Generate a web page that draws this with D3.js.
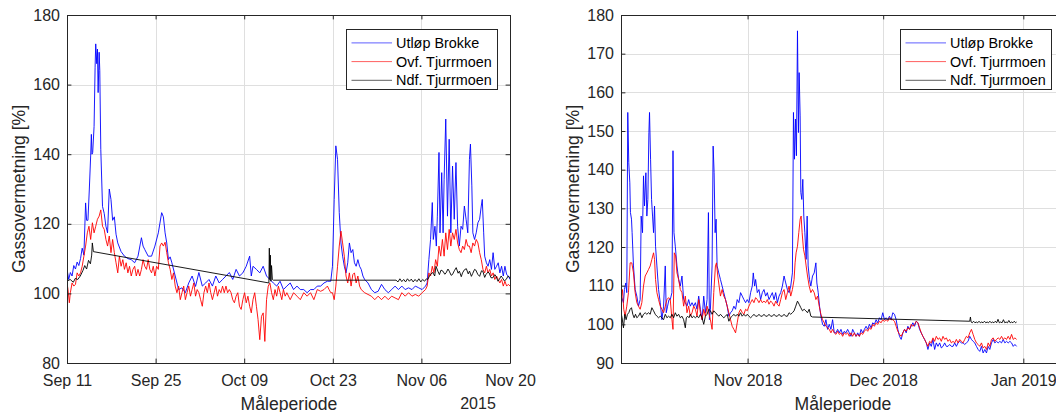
<!DOCTYPE html>
<html>
<head>
<meta charset="utf-8">
<script src="https://cdn.jsdelivr.net/npm/d3@7"></script>
<style>
  html, body { margin: 0; padding: 0; background: #ffffff; }
  svg { display: block; font-family: "Liberation Sans", Arial, Helvetica, sans-serif; }
</style>
</head>
<body>
<svg id="chart" width="1056" height="412"></svg>
<script>
// ---------------------------------------------------------------
// Gas supersaturation measurements, two campaigns (2015 and 2018)
// Each series is a list of [days since campaign start, % saturation]
// ---------------------------------------------------------------
const seriesNames = ["Utløp Brokke", "Ovf. Tjurrmoen", "Ndf. Tjurrmoen"];
const seriesColors = ["#0000ff", "#ff0000", "#000000"];

// ---- Campaign 2015 (start Sep 11 2015) ----
const start2015 = Date.UTC(2015, 8, 11);
const xTicks2015 = [Date.UTC(2015, 8, 11), Date.UTC(2015, 8, 25), Date.UTC(2015, 9, 9),
                    Date.UTC(2015, 9, 23), Date.UTC(2015, 10, 6), Date.UTC(2015, 10, 20)];
const yTicks2015 = [80, 100, 120, 140, 160, 180];
const yearLabel2015 = "2015";

const utlop2015 = [[0,107],[0.27,104],[0.53,106],[0.8,105],[1.07,108],[1.34,107],[1.6,109],[1.87,108],[2.14,110],[2.4,113],[2.67,111],[2.94,126],[3.1,121],[3.31,121],[3.53,130],[3.74,139.5],[3.85,145.7],[3.95,140],[4.06,140.5],[4.28,148],[4.44,165],[4.54,171.7],[4.7,166],[4.81,170.2],[4.92,157.7],[5.08,169.3],[5.18,164],[5.34,141.4],[5.61,125],[5.88,123],[6.15,119.3],[6.41,117.4],[6.68,130],[6.95,127],[7.21,121],[7.48,122],[7.75,117],[8.02,114.5],[8.55,112],[9.08,110.7],[9.62,110],[10.15,109.7],[10.69,108.8],[11.22,110.7],[11.76,116],[12.02,113.6],[12.29,112.6],[12.83,110.7],[13.36,110.7],[13.89,113.6],[14.43,117.4],[14.96,123.2],[15.23,122],[15.5,117.4],[15.76,114.5],[16.03,109.7],[16.3,110.5],[16.57,108.8],[17.1,105],[17.64,101.1],[18.17,101.6],[18.7,100.2],[19.24,103],[19.77,105],[20.31,102],[20.84,106],[21.38,102.1],[21.91,103],[22.44,104],[22.98,102.1],[23.51,105],[24.05,103],[24.58,104],[25.12,105],[25.65,106],[26.19,104],[26.72,106.9],[27.25,105],[27.79,105.9],[28.32,107.8],[28.86,110.7],[29.12,105],[29.39,107.8],[29.93,106.9],[30.46,105.9],[31,107.8],[31.53,105],[32.06,104],[32.6,103],[33.13,102.1],[33.67,103.5],[34.2,101.1],[34.74,102.1],[35.27,103],[35.8,101.1],[36.34,102.1],[36.87,101.1],[37.41,101.1],[37.94,100.2],[38.48,101.1],[39.01,101.1],[39.55,102.1],[40.08,102.1],[40.61,103],[41.15,103.5],[41.68,103.5],[41.95,107.8],[42.22,127],[42.48,142.4],[42.75,138.5],[43.02,123.2],[43.29,114.5],[43.55,110.7],[43.82,107.8],[44.09,105.9],[44.36,108.8],[44.62,114.5],[44.89,111.7],[45.16,112.6],[45.42,108.8],[45.69,107.8],[45.96,109.7],[46.23,107.8],[46.49,106.9],[46.76,105],[47.03,104],[47.56,103],[48.1,101.1],[48.63,100.2],[49.16,100.6],[49.7,102.6],[50.23,101.1],[50.77,100.2],[51.3,101.1],[51.84,102.1],[52.37,101.1],[52.91,102.1],[53.44,101.1],[53.97,101.6],[54.51,101.1],[55.04,102.1],[55.58,101.6],[56.11,101.1],[56.65,102.1],[56.91,103],[57.18,109.7],[57.45,115.5],[57.72,126.1],[57.88,115.5],[58.14,119.3],[58.36,113.6],[58.52,122.2],[58.78,140.5],[58.94,117.4],[59.21,134.7],[59.43,117.4],[59.59,132.8],[59.85,150.1],[60.12,122.2],[60.39,144.3],[60.65,117.4],[60.92,136.6],[61.19,121.3],[61.46,137.6],[61.72,119.3],[61.99,113.6],[62.26,119.3],[62.52,118.4],[62.79,125.1],[63.06,121.3],[63.33,117.4],[63.59,138.5],[63.75,142.9],[63.97,130.9],[64.13,117.4],[64.4,115.5],[64.66,117.4],[64.93,120.3],[65.2,121.3],[65.46,125.1],[65.62,127],[65.84,117.4],[66,110.7],[66.27,108.8],[66.53,107.8],[66.8,109.7],[67.07,106.9],[67.33,111.7],[67.6,106.9],[67.87,107.8],[68.14,108.8],[68.4,105.9],[68.67,107.8],[68.94,105],[69.2,107.8],[69.47,105.4],[69.74,105],[70,104]];

const ovf2015 = [[0,103],[0.16,101.1],[0.37,97.3],[0.53,100.2],[0.8,103],[1.07,102.1],[1.34,102.6],[1.6,105.9],[1.87,105],[2.14,105.9],[2.4,107.8],[2.67,110.7],[2.94,113.6],[3.21,117.4],[3.47,119.3],[3.74,115.5],[4.01,120.3],[4.28,117.4],[4.54,119.3],[4.81,121.3],[5.08,122.2],[5.34,124],[5.61,119.3],[5.88,118.4],[6.15,115.5],[6.41,113.6],[6.68,116.5],[6.95,111.7],[7.21,115.5],[7.48,111.7],[7.75,108.8],[8.02,105.9],[8.28,110.7],[8.55,107.8],[8.82,109.7],[9.08,106.9],[9.35,108.8],[9.62,105.9],[9.88,107.8],[10.15,105],[10.42,106.9],[10.69,107.8],[10.95,105],[11.22,106.9],[11.49,105],[11.76,106.9],[12.02,109.7],[12.29,107.8],[12.56,106.9],[12.83,109.7],[13.09,106.9],[13.36,105.9],[13.63,107.8],[13.89,105],[14.16,107.8],[14.43,106.9],[14.7,113.6],[14.96,114.5],[15.23,113.6],[15.5,114.7],[15.76,111.7],[16.03,108.8],[16.3,106.9],[16.57,104],[16.83,105.9],[17.1,102.1],[17.37,100.2],[17.64,102.1],[17.9,98.2],[18.17,100.2],[18.44,102.1],[18.7,98.2],[18.97,100.2],[19.24,102.1],[19.51,99.2],[19.77,101.1],[20.04,103],[20.31,99.2],[20.57,101.1],[20.84,100.2],[21.11,98.2],[21.38,96.3],[21.64,100.2],[21.91,102.1],[22.18,100.2],[22.44,103],[22.71,100.2],[22.98,98.2],[23.25,100.2],[23.51,102.1],[23.78,99.2],[24.05,101.1],[24.31,100.2],[24.58,102.1],[24.85,100.2],[25.12,102.1],[25.38,100.2],[25.65,101.1],[25.92,100.2],[26.19,98.2],[26.45,97.3],[26.72,99.2],[26.99,100.2],[27.25,96.3],[27.52,95.4],[27.79,98.2],[28.06,100.2],[28.32,97.3],[28.59,99.2],[28.86,96.3],[29.12,94.4],[29.39,98.2],[29.66,100.2],[29.93,96.3],[30.19,92.5],[30.46,86.7],[30.73,93.4],[31,94.4],[31.26,86.2],[31.53,98.2],[31.8,102.1],[32.06,103],[32.33,100.2],[32.6,98.2],[32.87,101.1],[33.13,99.2],[33.4,102.1],[33.67,100.2],[33.94,98.2],[34.2,101.1],[34.47,99.2],[34.74,100.2],[35.27,98.2],[35.8,100.2],[36.34,99.2],[36.87,98.2],[37.41,100.2],[37.94,99.2],[38.48,100.2],[39.01,98.2],[39.55,101.1],[40.08,100.6],[40.61,101.1],[41.15,102.1],[41.41,101.1],[41.68,100.2],[41.95,100.2],[42.22,98.2],[42.48,102.1],[42.75,107.8],[43.02,113.6],[43.29,117.9],[43.55,114.5],[43.82,110.7],[44.09,105],[44.36,103],[44.62,105.9],[44.89,102.1],[45.16,105.4],[45.42,105.9],[45.69,103],[45.96,105],[46.23,102.1],[46.49,101.1],[47.03,100.2],[47.56,99.7],[48.1,99.2],[48.63,98.2],[49.16,99.2],[49.7,98.2],[50.23,99.2],[50.77,98.2],[51.3,99.2],[51.84,98.7],[52.37,98.2],[52.91,100.2],[53.44,99.2],[53.97,100.2],[54.51,99.2],[55.04,99.7],[55.58,99.2],[56.11,100.2],[56.65,101.1],[56.91,102.1],[57.18,105.9],[57.45,105],[57.72,107.8],[57.98,105.9],[58.25,109.7],[58.52,107.8],[58.78,113.6],[59.05,110.7],[59.32,115.5],[59.59,110.7],[59.85,117.4],[60.12,112.6],[60.39,118.4],[60.65,113.6],[60.92,117.4],[61.19,115.5],[61.46,118.4],[61.72,114.5],[61.99,112.6],[62.26,111.7],[62.52,113.6],[62.79,112.6],[63.06,115.5],[63.33,113.6],[63.59,113.6],[63.86,111.7],[64.13,114.5],[64.4,113.6],[64.66,115.5],[64.93,114.5],[65.2,111.7],[65.46,109.7],[65.73,106.9],[66,105.9],[66.27,107.8],[66.53,105.9],[66.8,106.9],[67.07,105],[67.33,105.9],[67.6,104],[67.87,105],[68.14,104],[68.4,103],[68.67,104],[68.94,102.1],[69.2,103.5],[69.47,102.1],[69.74,102.6],[70,102.1]];

const ndf2015 = [[0,103.5],[0.5,104],[1,103.2],[1.3,104.3],[1.7,104],[2.1,105],[2.5,106.5],[2.8,108],[3.1,107],[3.4,109.5],[3.7,108.5],[3.9,111],[4,114.5],[4.17,112],[31.9,103],[31.97,113],[32.05,104],[32.13,111],[32.22,103.5],[32.32,108],[32.45,104],[32.6,103.8],[52,103.8],[52.3,103.3],[52.6,104.2],[52.9,103.4],[53.2,104],[53.5,103.3],[53.8,104.2],[54.1,103.5],[54.4,104.1],[54.7,103.3],[55,104],[55.3,103.4],[55.6,104.2],[55.9,103.3],[56.2,104],[56.5,103.5],[56.8,104.2],[57,104],[57.4,105.4],[57.8,106],[58.1,105],[58.3,107.8],[58.6,106.4],[58.85,105.4],[59.1,106.7],[59.4,106.4],[59.7,105.5],[59.9,105.9],[60.2,107],[60.4,106.4],[60.7,105.2],[60.9,105.4],[61.2,106.5],[61.5,107.4],[61.8,105.8],[62,106.4],[62.3,104.8],[62.5,105.9],[62.8,106.8],[63.1,107.1],[63.4,105.6],[63.6,106.4],[63.9,104.9],[64.1,105.7],[64.4,106.9],[64.6,106.7],[64.9,105.5],[65.2,104.9],[65.5,106.5],[65.7,106.4],[66,104.6],[66.2,105.4],[66.5,106.1],[66.7,105.9],[67,104.5],[67.3,104.5],[67.6,105.4],[67.8,104.9],[68.1,103.5],[68.3,104],[68.6,105],[68.8,104.5],[69.1,103.6],[69.4,104],[69.7,105],[70,104.5]];

// ---- Campaign 2018 (start Oct 4 2018) ----
const start2018 = Date.UTC(2018, 9, 4);
const xTicks2018 = [Date.UTC(2018, 10, 1), Date.UTC(2018, 11, 1), Date.UTC(2019, 0, 1)];
const yTicks2018 = [90, 100, 110, 120, 130, 140, 150, 160, 170, 180];

const utlop2018 = [[0,106.4],[0.17,106.9],[0.54,105.6],[0.76,109],[1.06,110.7],[1.28,108.2],[1.5,154.8],[1.72,141.8],[1.95,136.6],[2.09,128.9],[2.32,127.2],[2.46,123.7],[2.76,115.1],[3.13,109],[3.5,107.3],[3.87,104.7],[4.24,106.4],[4.46,128],[4.76,123.7],[4.98,138.4],[5.2,130.6],[5.5,139.2],[5.72,128],[5.94,132.3],[6.17,149.6],[6.31,154.8],[6.54,142.7],[6.76,132.3],[6.98,128],[7.2,123.7],[7.42,130.6],[7.64,120.2],[7.94,115.1],[8.31,109],[8.68,105.6],[9.05,101.2],[9.42,104.7],[9.79,115.1],[10.01,103],[10.31,104.7],[10.61,106.4],[10.9,106.4],[11.27,108.2],[11.5,144.9],[11.72,123.7],[12.01,120.2],[12.38,115.1],[12.75,111.6],[13.12,109.9],[13.49,112.5],[13.86,106.4],[14.23,105.6],[14.6,104.7],[14.97,106.4],[15.34,104.7],[15.71,105.6],[16.08,104.7],[16.45,105.6],[16.82,103.9],[17.19,107.3],[17.56,103.9],[17.93,101.2],[18.3,107.3],[18.67,103],[19.04,106.4],[19.34,128.9],[19.56,101.2],[19.78,103.9],[20.15,115.1],[20.38,146.1],[20.6,139.2],[20.82,123.7],[21.04,127.2],[21.26,115.1],[21.63,113.3],[22,111.6],[22.37,109.9],[22.74,108.2],[23.12,106.4],[23.49,104.7],[23.86,102.1],[24.23,103],[24.6,103.5],[24.97,104.7],[25.34,103.9],[25.71,106.4],[26.08,105.6],[26.45,108.2],[26.82,107.3],[27.19,106.4],[27.56,105.6],[27.93,106.4],[28.3,105.6],[28.67,108.2],[29.04,109.9],[29.26,113.3],[29.56,109.9],[29.78,111.6],[30.15,108.2],[30.52,109],[30.89,106.4],[31.26,108.2],[31.63,109],[32,107.3],[32.37,108.2],[32.74,106.4],[33.11,107.3],[33.48,108.2],[33.85,106.4],[34.22,108.2],[34.59,105.6],[34.96,107.3],[35.33,108.2],[35.7,109.9],[36.07,112.5],[36.44,110.7],[36.81,109],[37.18,108.2],[37.55,109.9],[37.92,113.3],[38.15,154.8],[38.37,142.7],[38.59,153.1],[38.81,143.6],[39.04,175.9],[39.26,149.6],[39.41,165.1],[39.63,153.9],[39.78,134.1],[40,132.3],[40.22,137.5],[40.44,128],[40.67,123.7],[40.96,116.8],[41.18,128],[41.4,115.1],[41.7,111.6],[42,109.9],[42.37,112.5],[42.74,113.3],[43.11,115.9],[43.33,110.7],[43.63,108.2],[43.92,104.7],[44.22,102.1],[44.59,100],[44.96,99.5],[45.33,101.2],[45.7,98.7],[46.07,100],[46.44,98.7],[46.81,101.2],[47.18,97.8],[47.55,97.8],[47.92,98.7],[48.29,97.8],[48.66,98.7],[49.03,97.4],[49.4,98.2],[49.77,97.8],[50.14,98.7],[50.51,97.8],[50.88,96.9],[51.25,98.7],[51.62,97.8],[51.99,96.9],[52.36,97.8],[52.73,96.9],[53.1,98.7],[53.47,97.8],[53.84,98.7],[54.21,99.5],[54.58,98.7],[54.95,100],[55.32,99.1],[55.69,100.4],[56.06,100],[56.43,101.2],[56.8,100.4],[57.17,101.7],[57.54,101.2],[57.91,103],[58.28,101.2],[58.65,101.7],[59.02,101.2],[59.39,102.1],[59.76,101.2],[60.13,103],[60.5,102.6],[60.87,101.2],[61.24,98.7],[61.61,96.9],[61.98,96.1],[62.35,97.8],[62.72,98.7],[63.09,97.8],[63.46,99.5],[63.83,98.7],[64.2,99.5],[64.57,100.4],[64.94,99.5],[65.31,100.8],[65.68,100.4],[66.05,98.7],[66.42,97.8],[66.79,96.9],[67.16,96.1],[67.53,95.2],[67.9,93.5],[68.27,95.2],[68.64,94.3],[69.01,96.1],[69.38,93.5],[69.75,95.2],[70.12,94.3],[70.49,95.2],[70.86,93.9],[71.23,94.3],[71.6,95.2],[71.97,94.3],[72.34,94.3],[72.71,94.8],[73.08,94.3],[73.45,94.3],[73.82,95.2],[74.19,94.3],[74.56,95.2],[74.93,95.6],[75.3,95.2],[75.67,95.2],[76.04,94.8],[76.41,95.2],[76.78,95.6],[77.15,96.9],[77.52,96.1],[77.89,95.6],[78.26,95.2],[78.63,94.3],[79,93.5],[79.37,93],[79.74,94.3],[80.11,92.6],[80.48,93.5],[80.85,92.6],[81.22,94.3],[81.59,93.5],[81.96,95.2],[82.33,96.1],[82.7,95.2],[83.07,95.6],[83.44,95.2],[83.81,95.6],[84.18,95.2],[84.55,96.1],[84.92,95.2],[85.29,95.6],[85.66,95.2],[86.03,95.6],[86.4,95.2],[86.77,94.3],[87.14,94.8],[87.51,94.3]];

const ovf2018 = [[0,106.4],[0.32,109],[0.61,103.9],[0.91,102.1],[1.28,104.7],[1.65,108.2],[2.02,115.9],[2.39,115.9],[2.76,113.3],[3.13,108.2],[3.5,105.6],[3.87,104.7],[4.24,103.9],[4.61,105.6],[4.98,109.9],[5.35,112.5],[5.72,113.3],[6.09,114.2],[6.46,115.1],[6.83,116.8],[7.2,118.5],[7.42,116.8],[7.64,111.6],[7.94,108.2],[8.31,106.4],[8.68,104.7],[9.05,103.9],[9.42,103],[9.79,104.7],[10.16,106.4],[10.53,106.9],[10.9,106.4],[11.27,101.2],[11.5,98.7],[11.79,118.5],[12.09,117.7],[12.38,113.3],[12.75,111.6],[13.12,109],[13.49,108.2],[13.86,104.7],[14.23,107.3],[14.6,103],[14.97,104.7],[15.34,102.1],[15.71,103],[16.08,104.7],[16.45,103.9],[16.82,102.1],[17.19,106.4],[17.56,103],[17.93,101.2],[18.3,103.9],[18.67,102.1],[19.04,104.7],[19.41,103],[19.78,101.2],[20.15,98.7],[20.52,108.2],[20.89,115.1],[21.12,115.9],[21.41,112.5],[21.71,109.9],[22,107.3],[22.37,109],[22.74,107.3],[23.12,106.4],[23.49,104.7],[23.86,103],[24.23,101.2],[24.6,99.5],[24.97,98.7],[25.34,97.8],[25.71,100.4],[26.08,103],[26.45,103.9],[26.82,103],[27.19,102.6],[27.56,103.9],[27.93,103.5],[28.3,104.7],[28.67,105.6],[29.04,106.4],[29.41,105.6],[29.78,106.9],[30.15,106.4],[30.52,105.6],[30.89,106.4],[31.26,105.6],[31.63,106],[32,105.6],[32.37,106.4],[32.74,105.2],[33.11,106],[33.48,105.6],[33.85,104.7],[34.22,106],[34.59,105.2],[34.96,104.7],[35.33,106.4],[35.7,108.2],[36.07,109],[36.44,106.4],[36.81,108.2],[37.18,109.9],[37.55,107.3],[37.92,109],[38.29,111.6],[38.51,115.9],[38.74,118.5],[39.04,120.2],[39.33,123.7],[39.63,127.2],[39.85,128],[40.07,123.7],[40.37,119.4],[40.67,117.7],[40.96,115.1],[41.26,112.5],[41.63,109.9],[42,108.2],[42.37,109],[42.74,108.2],[43.11,106.4],[43.48,107.3],[43.85,104.7],[44.22,102.6],[44.59,101.2],[44.96,100.4],[45.33,99.5],[45.7,99.1],[46.07,98.7],[46.44,97.8],[46.81,98.7],[47.18,97.8],[47.55,97.4],[47.92,98.2],[48.29,97.4],[48.66,97.8],[49.03,96.9],[49.4,97.8],[49.77,97.4],[50.14,97.8],[50.51,96.9],[50.88,97.8],[51.25,96.9],[51.62,97.8],[51.99,96.9],[52.36,97.4],[52.73,96.9],[53.1,97.8],[53.47,97.4],[53.84,98.2],[54.21,98.7],[54.58,98.2],[54.95,99.1],[55.32,98.7],[55.69,100],[56.06,99.5],[56.43,100.4],[56.8,100],[57.17,100.8],[57.54,100.4],[57.91,101.2],[58.28,100.8],[58.65,101.2],[59.02,100.8],[59.39,101.7],[59.76,101.2],[60.13,101.2],[60.5,100.8],[60.87,99.5],[61.24,98.2],[61.61,97.4],[61.98,96.9],[62.35,97.8],[62.72,98.7],[63.09,98.2],[63.46,99.1],[63.83,98.7],[64.2,100],[64.57,99.5],[64.94,100],[65.31,100.8],[65.68,100.4],[66.05,99.1],[66.42,97.8],[66.79,96.9],[67.16,96.1],[67.53,95.2],[67.9,94.3],[68.27,95.6],[68.64,95.2],[69.01,96.5],[69.38,95.6],[69.75,96.9],[70.12,96.1],[70.49,96.5],[70.86,95.6],[71.23,96.9],[71.6,96.1],[71.97,96.5],[72.34,95.6],[72.71,96.1],[73.08,95.2],[73.45,95.6],[73.82,95.2],[74.19,96.1],[74.56,95.2],[74.93,96.1],[75.3,95.6],[75.67,95.2],[76.04,96.1],[76.41,96.9],[76.78,96.5],[77.15,97.8],[77.52,98.7],[77.89,97.4],[78.26,96.1],[78.63,95.2],[79,94.8],[79.37,94.3],[79.74,95.2],[80.11,93.9],[80.48,94.3],[80.85,93.5],[81.22,95.2],[81.59,94.3],[81.96,96.1],[82.33,96.5],[82.7,95.6],[83.07,96.1],[83.44,96.5],[83.81,96.1],[84.18,96.9],[84.55,96.1],[84.92,96.5],[85.29,96.1],[85.66,96.9],[86.03,96.1],[86.4,97.4],[86.77,96.1],[87.14,96.5],[87.51,96.1]];

const ndf2018 = [[0,103],[0.24,101.7],[0.54,99.1],[0.84,102.6],[1.13,101.2],[1.43,102.6],[1.72,103],[2.02,103.9],[2.32,104.3],[2.61,102.6],[2.91,101.7],[3.21,102.6],[3.5,101.7],[3.87,102.1],[4.24,103],[4.61,101.7],[4.98,102.6],[5.35,103],[5.72,102.6],[6.09,103],[6.46,102.6],[6.83,104.3],[7.2,103.5],[7.57,102.6],[7.94,102.1],[8.31,101.7],[8.68,102.1],[9.05,101.7],[9.42,101.2],[9.79,102.6],[10.16,101.7],[10.53,102.1],[10.9,101.7],[11.27,102.6],[11.64,101.7],[12.01,103],[12.38,102.1],[12.75,102.6],[13.12,101.7],[13.49,102.1],[13.86,101.2],[14.23,99.1],[14.45,101.7],[14.75,102.1],[15.05,101.7],[15.34,102.6],[15.71,101.7],[16.08,102.1],[16.45,101.7],[16.82,102.1],[17.19,101.7],[17.56,102.6],[17.93,101.7],[18.3,100],[18.67,102.1],[19.04,102.6],[19.41,103.9],[19.78,103.5],[20.15,102.6],[20.52,103.5],[20.89,103],[21.26,102.6],[21.63,102.1],[22,102.6],[22.37,102.1],[22.74,101.7],[23.12,102.1],[23.49,102.6],[23.86,100.8],[24.23,101.7],[24.6,102.1],[24.97,102.6],[25.34,102.1],[25.71,102.6],[26.08,102.1],[26.45,103],[26.8,102.1],[27.19,102.6],[27.56,102.1],[27.93,102.6],[28.3,102.1],[28.67,101.7],[29.04,102.1],[29.41,102.6],[29.78,102.1],[30.15,102.1],[30.52,102.6],[30.89,102.1],[31.26,102.1],[31.63,102.6],[32,102.1],[32.37,102.1],[32.74,102.6],[33.11,102.1],[33.48,102.1],[33.85,102.6],[34.22,102.1],[34.59,102.1],[34.96,102.6],[35.33,102.1],[35.7,102.1],[36.07,102.6],[36.44,102.1],[36.81,102.1],[37.18,103],[37.55,102.6],[37.92,103],[38.29,103.5],[38.66,104.7],[39.04,106],[39.41,105.2],[39.78,104.3],[40.15,103.5],[40.52,103.9],[40.89,103.5],[41.26,103],[41.63,103.9],[42,102.1],[42.37,101.9],[77.15,100.8],[77.3,101.9],[77.45,100.6],[77.7,100.4],[78,100.8],[78.3,100.4],[78.6,100.6],[78.9,100.4],[79.2,100.8],[79.5,100.4],[79.8,100.6],[80.1,100.4],[80.4,100.8],[80.7,100.4],[81,100.6],[81.3,100.4],[81.6,100.8],[81.9,100.4],[82.2,100.6],[82.5,100.4],[82.8,100.8],[83.1,100.4],[83.4,101.3],[83.7,100.4],[84,100.6],[84.3,100.4],[84.6,101.2],[84.9,100.4],[85.2,100.6],[85.5,100.4],[85.8,101],[86.1,100.4],[86.4,100.6],[86.7,100.4],[87,100.8],[87.3,100.4],[87.51,100.6]];

const xAxisTitle = "Måleperiode";
const yAxisTitle = "Gassovermetning [%]";

// ---------------------------------------------------------------
const svg = d3.select("#chart");
const AXIS_COLOR = "#262626";
const GRID_COLOR = "#dfdfdf";
const TICK_FONT = 16;
const LABEL_FONT = 17.6;
const LEGEND_FONT = 14.4;
const TICK_LEN = 4.4;

function dayToDate(start, d) { return new Date(start + d * 864e5); }

function styleAxis(g) {
  g.attr("font-size", null).attr("font-family", null);
  g.select(".domain").attr("stroke", AXIS_COLOR).attr("stroke-width", 1);
  g.selectAll(".tick line").attr("stroke", AXIS_COLOR).attr("stroke-width", 1);
  g.selectAll(".tick text").attr("fill", AXIS_COLOR).style("font-size", TICK_FONT + "px");
}

function drawPanel(p) {
  const x = d3.scaleUtc().domain(p.xDomain).range([p.x0, p.x1]);
  const y = d3.scaleLinear().domain(p.yDomain).range([p.y1, p.y0]);
  const g = svg.append("g").attr("class", p.id);

  g.append("clipPath").attr("id", p.id + "-clip")
    .append("rect").attr("x", p.x0).attr("y", p.y0)
    .attr("width", p.x1 - p.x0).attr("height", p.y1 - p.y0);

  // grid
  const grid = g.append("g").attr("class", "grid");
  grid.selectAll("line.gx").data(p.xTicks).join("line").attr("class", "gx")
    .attr("x1", d => Math.round(x(d)) + 0.5).attr("x2", d => Math.round(x(d)) + 0.5)
    .attr("y1", p.y0).attr("y2", p.y1)
    .attr("stroke", GRID_COLOR).attr("stroke-width", 1);
  grid.selectAll("line.gy").data(p.yTicks).join("line").attr("class", "gy")
    .attr("x1", p.x0).attr("x2", p.x1)
    .attr("y1", d => Math.round(y(d)) + 0.5).attr("y2", d => Math.round(y(d)) + 0.5)
    .attr("stroke", GRID_COLOR).attr("stroke-width", 1);

  // data lines
  const line = d3.line()
    .x(d => x(dayToDate(p.start, d[0])))
    .y(d => y(d[1]));
  const lines = g.append("g").attr("clip-path", `url(#${p.id}-clip)`);
  p.series.forEach((s, i) => {
    lines.append("path").attr("d", line(s))
      .attr("fill", "none").attr("stroke", seriesColors[i])
      .attr("stroke-width", 0.9).attr("stroke-linejoin", "round");
  });

  // axes (ticks point inward, box on all four sides)
  g.append("g").attr("transform", `translate(0,${p.y1})`)
    .call(d3.axisBottom(x).tickValues(p.xTicks).tickFormat(p.xFormat)
      .tickSizeInner(-TICK_LEN).tickSizeOuter(0).tickPadding(11.5))
    .call(styleAxis);
  g.append("g").attr("transform", `translate(0,${p.y0})`)
    .call(d3.axisTop(x).tickValues(p.xTicks).tickFormat("")
      .tickSizeInner(-TICK_LEN).tickSizeOuter(0))
    .call(styleAxis);
  g.append("g").attr("transform", `translate(${p.x0},0)`)
    .call(d3.axisLeft(y).tickValues(p.yTicks).tickFormat(d3.format("d"))
      .tickSizeInner(-TICK_LEN).tickSizeOuter(0).tickPadding(7))
    .call(styleAxis);
  g.append("g").attr("transform", `translate(${p.x1},0)`)
    .call(d3.axisRight(y).tickValues(p.yTicks).tickFormat("")
      .tickSizeInner(-TICK_LEN).tickSizeOuter(0))
    .call(styleAxis);

  // axis titles
  g.append("text")
    .attr("x", (p.x0 + p.x1) / 2 + 0.5).attr("y", 409.5)
    .attr("text-anchor", "middle").attr("fill", AXIS_COLOR)
    .style("font-size", LABEL_FONT + "px").text(xAxisTitle);
  g.append("text")
    .attr("transform", `translate(${p.x0 - 42},${(p.y0 + p.y1) / 2}) rotate(-90)`)
    .attr("text-anchor", "middle").attr("fill", AXIS_COLOR)
    .style("font-size", LABEL_FONT + "px").text(yAxisTitle);
  if (p.yearLabel) {
    g.append("text")
      .attr("x", p.x1 - 32).attr("y", 408.5)
      .attr("text-anchor", "middle").attr("fill", AXIS_COLOR)
      .style("font-size", TICK_FONT + "px").text(p.yearLabel);
  }

  // legend
  const lw = 151, lh = 60;
  const lx = p.x1 - 13 - lw + 0.5, ly = p.y0 + 14 + 0.5;
  const leg = g.append("g").attr("class", "legend");
  leg.append("rect").attr("x", lx).attr("y", ly).attr("width", lw).attr("height", lh)
    .attr("fill", "#ffffff").attr("stroke", AXIS_COLOR).attr("stroke-width", 1);
  const rows = leg.selectAll("g.row").data(seriesNames).join("g").attr("class", "row")
    .attr("transform", (d, i) => `translate(${lx},${ly + 13.4 + i * 18.7})`);
  rows.append("line").attr("x1", 5).attr("x2", 45.5).attr("y1", 0).attr("y2", 0)
    .attr("stroke", (d, i) => seriesColors[i]).attr("stroke-width", 0.9)
    .attr("stroke-opacity", 0.7);
  rows.append("text").attr("x", 49.5).attr("y", 0).attr("dy", "0.35em")
    .attr("fill", "#000000").style("font-size", LEGEND_FONT + "px")
    .text(d => d);
}

drawPanel({
  id: "p2015",
  x0: 67, x1: 510, y0: 15, y1: 363,
  xDomain: [new Date(start2015), new Date(Date.UTC(2015, 10, 20))],
  yDomain: [80, 180],
  xTicks: xTicks2015.map(t => new Date(t)),
  yTicks: yTicks2015,
  xFormat: d3.utcFormat("%b %d"),
  start: start2015,
  series: [utlop2015, ovf2015, ndf2015],
  yearLabel: yearLabel2015
});

drawPanel({
  id: "p2018",
  x0: 621, x1: 1064, y0: 15, y1: 363,
  xDomain: [new Date(start2018), new Date(Date.UTC(2019, 0, 10))],
  yDomain: [90, 180],
  xTicks: xTicks2018.map(t => new Date(t)),
  yTicks: yTicks2018,
  xFormat: d3.utcFormat("%b %Y"),
  start: start2018,
  series: [utlop2018, ovf2018, ndf2018],
  yearLabel: null
});
</script>
</body>
</html>
